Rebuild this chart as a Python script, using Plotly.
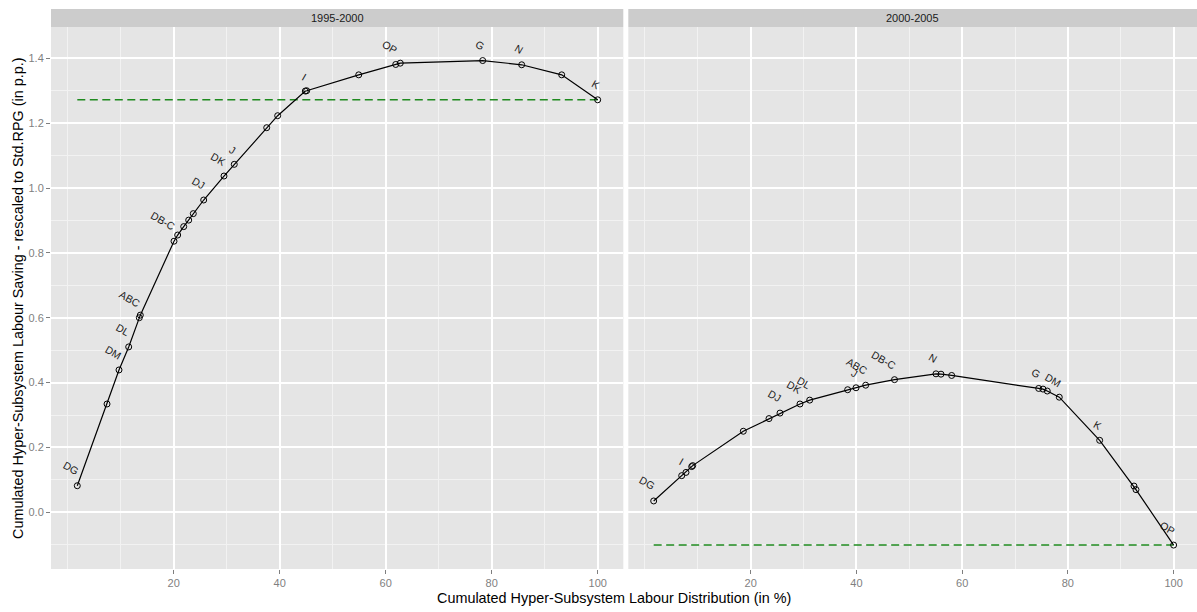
import plotly.graph_objects as go

# ---- data ----
panels = ["1995-2000", "2000-2005"]

x_9500 = [1.81, 7.42, 9.68, 11.51, 13.51, 13.70, 20.06, 20.75, 21.89, 22.83, 23.70, 25.66, 29.49,
          31.43, 37.55, 39.62, 44.83, 45.09, 54.91, 61.89, 62.75, 78.30, 85.66, 93.21, 100.0]
y_9500 = [0.082, 0.334, 0.439, 0.510, 0.600, 0.608, 0.836, 0.855, 0.881, 0.901, 0.921, 0.963, 1.037,
          1.073, 1.186, 1.223, 1.299, 1.300, 1.349, 1.381, 1.385, 1.393, 1.380, 1.349, 1.272]
lab_9500 = ["DG", "", "DM", "DL", "ABC", "", "DB-C", "", "", "", "", "DJ", "DK",
            "J", "", "", "I", "", "", "OP", "", "G", "N", "", "K"]

x_0005 = [1.66, 6.96, 7.77, 8.85, 9.04, 18.61, 23.47, 25.55, 29.33, 31.17, 38.35, 39.93, 41.76,
          47.21, 55.05, 56.00, 58.02, 74.48, 75.29, 76.10, 78.37, 86.01, 92.50, 92.88, 100.0]
y_0005 = [0.035, 0.113, 0.123, 0.141, 0.144, 0.250, 0.289, 0.306, 0.334, 0.346, 0.378, 0.384, 0.392,
          0.409, 0.427, 0.426, 0.422, 0.382, 0.380, 0.374, 0.355, 0.222, 0.081, 0.070, -0.101]
lab_0005 = ["DG", "I", "", "", "", "", "", "DJ", "DK", "DL", "", "J", "ABC",
            "DB-C", "N", "", "", "G", "", "", "DM", "K", "", "", "OP"]

x_ticks = [20, 40, 60, 80, 100]
x_minor = [0, 10, 30, 50, 70, 90]
y_ticks = [0.0, 0.2, 0.4, 0.6, 0.8, 1.0, 1.2, 1.4]
y_tick_text = ["0.0", "0.2", "0.4", "0.6", "0.8", "1.0", "1.2", "1.4"]
y_minor = [-0.1, 0.1, 0.3, 0.5, 0.7, 0.9, 1.1, 1.3]

x_title = "Cumulated Hyper-Subsystem Labour Distribution (in %)"
y_title = "Cumulated Hyper-Subsystem Labour Saving - rescaled to Std.RPG (in p.p.)"

# ---- styling ----
FONT = "Liberation Sans, Arial, Helvetica, sans-serif"
W, H = 1197, 612
ML, MR, MT, MB = 51, 0, 27, 43
PW, PH = W - ML - MR, H - MT - MB
D1 = (623.3 - ML) / PW
D2 = (628.3 - ML) / PW
GREEN = "#1F8A1F"

fig = go.Figure()

series = [(x_9500, y_9500, lab_9500, "x", "y"), (x_0005, y_0005, lab_0005, "x2", "y2")]
annotations = []
for xs, ys, labs, xa, ya in series:
    # reference dashed line at final value
    fig.add_trace(go.Scatter(x=[xs[0], xs[-1]], y=[ys[-1], ys[-1]], mode="lines",
                             line=dict(color=GREEN, width=1.5, dash="8px,4.5px"),
                             xaxis=xa, yaxis=ya, hoverinfo="skip"))
    fig.add_trace(go.Scatter(x=xs, y=ys, mode="lines+markers",
                             line=dict(color="black", width=1.2),
                             marker=dict(symbol="circle-open", size=6, color="black",
                                         line=dict(width=1, color="black")),
                             xaxis=xa, yaxis=ya))
    for xv, yv, lb in zip(xs, ys, labs):
        if lb:
            annotations.append(dict(x=xv, y=yv, xref=xa, yref=ya, text=lb, showarrow=False,
                                    xanchor="right", yanchor="bottom", textangle=30,
                                    xshift=5, yshift=7, borderpad=0,
                                    font=dict(family=FONT, size=10.5, color="#1A1A1A")))

axis_common = dict(showline=False, zeroline=False, showgrid=True, automargin=False,
                   gridcolor="white", gridwidth=1.8,
                   ticklen=4, tickwidth=1, tickcolor="#7F7F7F",
                   tickfont=dict(family=FONT, size=11, color="#7F7F7F"))

fig.update_layout(
    template="none",
    width=W, height=H,
    margin=dict(l=ML, r=MR, t=MT, b=MB, pad=0),
    paper_bgcolor="white", plot_bgcolor="#E5E5E5",
    showlegend=False,
    xaxis=dict(domain=[0, D1], range=[-3.15, 104.83], tickvals=x_ticks, ticktext=[str(v) for v in x_ticks],
               minor=dict(tickvals=x_minor, showgrid=True, gridcolor="#F2F2F2", gridwidth=0.9, ticks=""),
               anchor="y", ticks="outside", **axis_common),
    xaxis2=dict(domain=[D2, 1], range=[-3.14, 104.42], tickvals=x_ticks, ticktext=[str(v) for v in x_ticks],
                minor=dict(tickvals=x_minor, showgrid=True, gridcolor="#F2F2F2", gridwidth=0.9, ticks=""),
                anchor="y2", ticks="outside", **axis_common),
    yaxis=dict(domain=[0, 1], range=[-0.1748, 1.4965], tickvals=y_ticks, ticktext=y_tick_text,
               minor=dict(tickvals=y_minor, showgrid=True, gridcolor="#F2F2F2", gridwidth=0.9, ticks=""),
               anchor="x", ticks="outside", **axis_common),
    yaxis2=dict(domain=[0, 1], range=[-0.1748, 1.4965], tickvals=y_ticks, showticklabels=False,
                minor=dict(tickvals=y_minor, showgrid=True, gridcolor="#F2F2F2", gridwidth=0.9, ticks=""),
                anchor="x2", matches="y", ticks="", **axis_common),
)

# facet strips
strip_top = 1 + (MT - 9) / PH
shapes = []
for (x0, x1), name in zip([(0, D1), (D2, 1)], panels):
    shapes.append(dict(type="rect", xref="paper", yref="paper", x0=x0, x1=x1, y0=1, y1=strip_top,
                       fillcolor="#CCCCCC", line=dict(width=0), layer="below"))
    annotations.append(dict(x=(x0 + x1) / 2, y=(1 + strip_top) / 2, xref="paper", yref="paper",
                            text=name, showarrow=False, xanchor="center", yanchor="middle",
                            font=dict(family=FONT, size=11, color="#1A1A1A")))

# axis titles
annotations.append(dict(x=(613.5 - ML) / PW, y=-(598 - (MT + PH)) / PH, xref="paper", yref="paper",
                        text=x_title, showarrow=False, xanchor="center", yanchor="middle",
                        font=dict(family=FONT, size=14.4, color="black")))
annotations.append(dict(x=(18 - ML) / PW, y=0.5, xref="paper", yref="paper", text=y_title,
                        showarrow=False, textangle=-90, xanchor="center", yanchor="middle",
                        font=dict(family=FONT, size=14.4, color="black")))

fig.update_layout(shapes=shapes, annotations=annotations)
fig.write_html("out.html", config={"displayModeBar": False},
               post_script="document.body.style.margin='0';document.body.style.padding='0';"
                           "document.body.style.overflow='hidden';")
